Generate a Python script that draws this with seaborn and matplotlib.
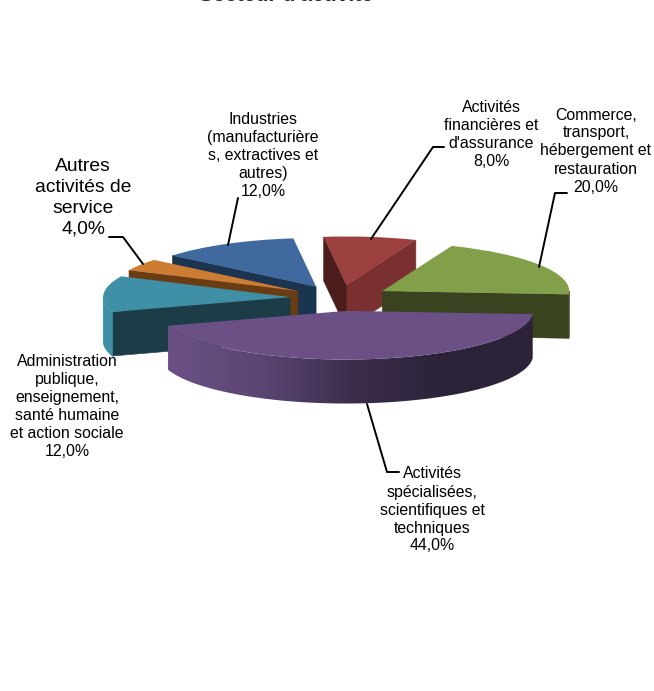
import numpy as np
import matplotlib
matplotlib.use("Agg")
import matplotlib.pyplot as plt
from matplotlib.lines import Line2D
from matplotlib.patches import Polygon
import seaborn as sns

sns.set_style("white")
plt.rcParams["font.family"] = ["Liberation Sans", "DejaVu Sans"]

sectors = [
    "Activités\nfinancières et\nd'assurance",
    "Commerce,\ntransport,\nhébergement et\nrestauration",
    "Activités\nspécialisées,\nscientifiques et\ntechniques",
    "Administration\npublique,\nenseignement,\nsanté humaine\net action sociale",
    "Autres\nactivités de\nservice",
    "Industries\n(manufacturière\ns, extractives et\nautres)",
]
shares = [8.0, 20.0, 44.0, 12.0, 4.0, 12.0]

top_colors = ["#9b403e", "#82a04a", "#6a5085", "#3f90a6", "#cd7d33", "#40699f"]
# wall colours: cut face at the low angle, cut face at the high angle, outer arc
low_cut = ["#7a3030", "#3a4320", "#6a5085", "#1c3d47", "#6a3c14", "#1b3450"]
high_cut = ["#4a1c1a", "#3a4320", "#6a5085", "#1c3d47", "#6a3c14", "#1b3450"]
arc_colors = ["#7a3030", "#3a4320", None, "#3f90a6", "#cd7d33", "#40699f"]
draw_order = [0, 5, 4, 3, 1, 2]

W, H = 654, 691
R_PX = 187          # pie radius in pixels
TILT = 0.26         # vertical squash of the pie
DEPTH_PX = 44
CX, CY = 340, 298

fig = plt.figure(figsize=(W / 100, H / 100), dpi=100)
ax = fig.add_axes([0, 0, 1, 1])

wedges, _ = ax.pie(
    shares,
    startangle=97,
    counterclock=False,
    explode=[0.267] * len(shares),
    colors=top_colors,
    wedgeprops={"linewidth": 0},
)
ax.set_aspect("auto")
ax.set_xlim(-CX / R_PX, (W - CX) / R_PX)
ax.set_ylim((CY - H) / (R_PX * TILT), CY / (R_PX * TILT))
depth = DEPTH_PX / (R_PX * TILT)

purple_ramp = sns.blend_palette(["#6b5086", "#5b4672", "#3c2e4e", "#2c2339", "#2c2339"], 200)


def wall(p0, p1, color, z):
    pts = [p0, p1, (p1[0], p1[1] - depth), (p0[0], p0[1] - depth)]
    ax.add_patch(Polygon(pts, closed=True, fc=color, ec=color, lw=0.4, zorder=z))


for z, i in enumerate(draw_order):
    w = wedges[i]
    base = 10 + 3 * z
    w.set_zorder(base + 1)
    ax_, ay_ = w.center
    t1, t2 = w.theta1, w.theta2
    p1 = (ax_ + w.r * np.cos(np.radians(t1)), ay_ + w.r * np.sin(np.radians(t1)))
    p2 = (ax_ + w.r * np.cos(np.radians(t2)), ay_ + w.r * np.sin(np.radians(t2)))

    # cut faces that look toward the viewer
    if np.sin(np.radians(t1 - 90)) < 0:
        wall((ax_, ay_), p1, low_cut[i], base)
    if np.sin(np.radians(t2 + 90)) < 0:
        wall((ax_, ay_), p2, high_cut[i], base)

    # outer arc, lower half of the circle only
    angles = np.radians(np.arange(t1, t2 + 0.5, 0.5))
    angles = angles[np.sin(angles) < 0]
    if len(angles) < 2:
        continue
    xs = ax_ + w.r * np.cos(angles)
    ys = ay_ + w.r * np.sin(angles)
    outline = list(zip(xs, ys)) + list(zip(xs[::-1], ys[::-1] - depth))
    if arc_colors[i] is None:
        # the big slice has a left to right shading on its wall
        poly = Polygon(outline, closed=True, fc="none", ec="none", zorder=base)
        ax.add_patch(poly)
        grad = ax.imshow(np.array(purple_ramp)[None, :, :], aspect="auto", zorder=base,
                         extent=(xs.min(), xs.max(), (ys - depth).min(), ys.max()))
        grad.set_clip_path(poly)
    else:
        ax.add_patch(Polygon(outline, closed=True, fc=arc_colors[i], ec=arc_colors[i],
                             lw=0.4, zorder=base))


def label(x, y, text, size=11.4, spacing=1.25):
    fig.text(x / W, 1 - y / H, text, ha="center", va="center", fontsize=size,
             color="black", linespacing=spacing, zorder=50)


def leader(xs, ys):
    fig.add_artist(Line2D([x / W for x in xs], [1 - y / H for y in ys],
                          color="black", lw=1.4, zorder=40))


def pct(v):
    return f"{v:.1f}".replace(".", ",") + "%"


label(491, 134.5, sectors[0] + "\n" + pct(shares[0]))
label(596, 151, sectors[1] + "\n" + pct(shares[1]))
label(432, 510, sectors[2] + "\n" + pct(shares[2]))
label(67, 407, sectors[3] + "\n" + pct(shares[3]))
label(83, 198, sectors[4] + "\n" + pct(shares[4]), size=13.9, spacing=1.3)
label(263, 155.5, sectors[5] + "\n" + pct(shares[5]))

leader([228, 238], [245, 198])
leader([371, 433, 444], [239, 147, 147])
leader([539, 555, 567], [267, 193, 193])
leader([367, 387, 399], [404, 472, 472])
leader([143, 123, 109], [264, 237, 237])

fig.text(286 / W, 1 - (-4.6) / H, "Secteur d'activité", ha="center", va="center",
         fontsize=15.2, fontweight="bold")

fig.savefig("out.png", dpi=100)
